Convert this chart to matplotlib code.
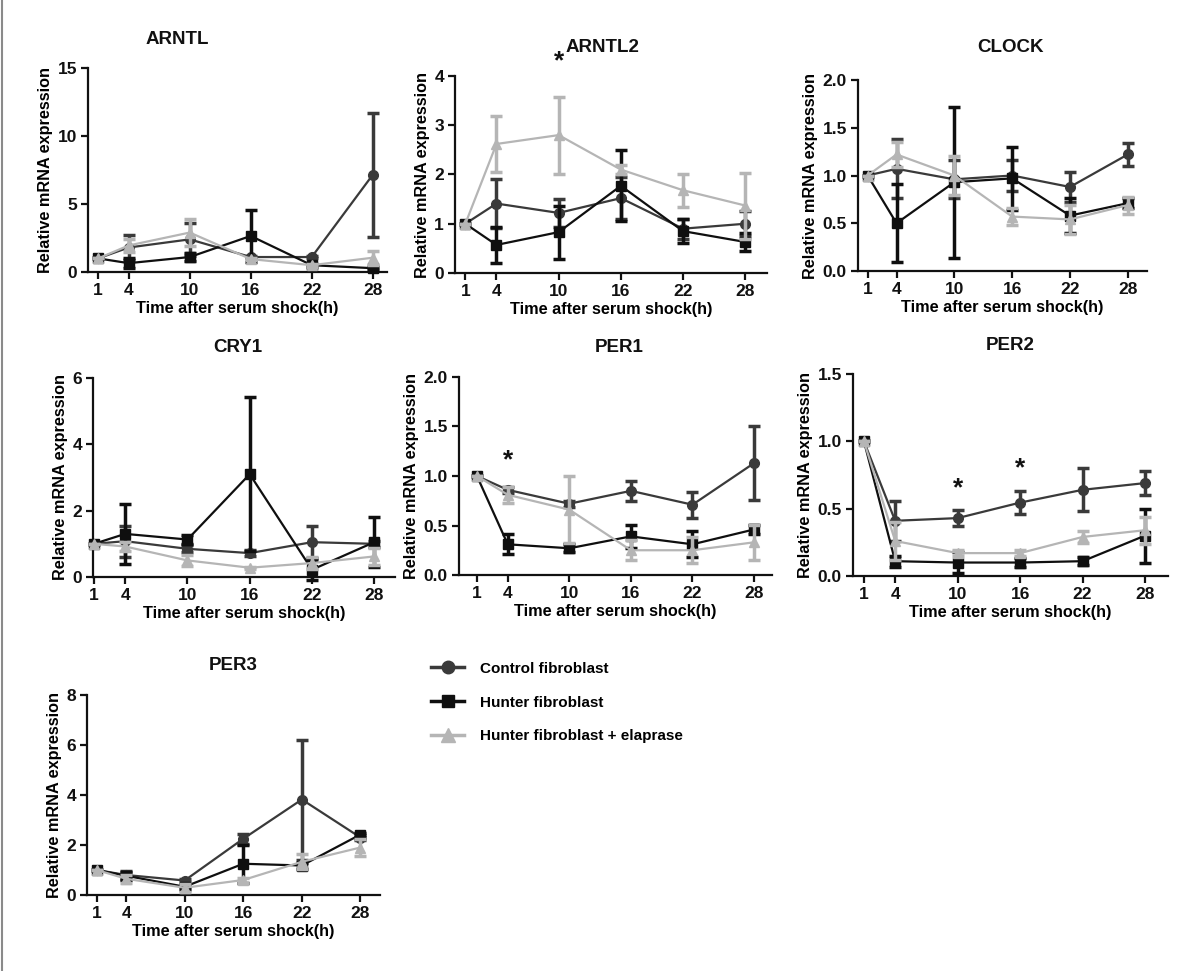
import matplotlib
matplotlib.use("Agg")
import matplotlib.pyplot as plt
from matplotlib.lines import Line2D

plt.rcParams['font.family'] = ['Liberation Sans', 'DejaVu Sans']
plt.rcParams['font.weight'] = 'bold'

# ---------------- data ----------------
hours = [1, 4, 10, 16, 22, 28]
series_names = ["Control fibroblast", "Hunter fibroblast", "Hunter fibroblast + elaprase"]

arntl_ctrl = [1.0, 1.8, 2.4, 1.1, 1.1, 7.15]
arntl_ctrl_err = [0.0, 0.9, 1.2, 0.1, 0.1, 4.55]
arntl_hunt = [1.0, 0.65, 1.1, 2.65, 0.5, 0.28]
arntl_hunt_err = [0.0, 0.35, 0.3, 1.9, 0.1, 0.1]
arntl_elap = [1.0, 1.95, 2.9, 0.95, 0.5, 1.05]
arntl_elap_err = [0.0, 0.45, 1.0, 0.1, 0.1, 0.5]

arntl2_ctrl = [1.0, 1.41, 1.22, 1.52, 0.9, 1.0]
arntl2_ctrl_err = [0.0, 0.5, 0.28, 0.43, 0.2, 0.25]
arntl2_hunt = [1.0, 0.57, 0.83, 1.77, 0.85, 0.63]
arntl2_hunt_err = [0.0, 0.36, 0.54, 0.72, 0.24, 0.18]
arntl2_elap = [1.0, 2.62, 2.8, 2.1, 1.68, 1.37]
arntl2_elap_err = [0.0, 0.57, 0.78, 0.1, 0.34, 0.67]

clock_ctrl = [1.0, 1.07, 0.96, 1.0, 0.88, 1.22]
clock_ctrl_err = [0.0, 0.31, 0.2, 0.16, 0.16, 0.12]
clock_hunt = [1.0, 0.5, 0.93, 0.97, 0.58, 0.71]
clock_hunt_err = [0.0, 0.41, 0.79, 0.33, 0.18, 0.05]
clock_elap = [1.0, 1.22, 1.0, 0.57, 0.54, 0.69]
clock_elap_err = [0.0, 0.13, 0.2, 0.09, 0.15, 0.09]

cry1_ctrl = [1.0, 1.08, 0.85, 0.72, 1.05, 1.0]
cry1_ctrl_err = [0.0, 0.47, 0.1, 0.08, 0.48, 0.1]
cry1_hunt = [1.0, 1.3, 1.13, 3.1, 0.22, 1.05]
cry1_hunt_err = [0.0, 0.9, 0.14, 2.32, 0.3, 0.75]
cry1_elap = [1.0, 0.92, 0.5, 0.28, 0.42, 0.62]
cry1_elap_err = [0.0, 0.15, 0.17, 0.03, 0.18, 0.25]

per1_ctrl = [1.0, 0.86, 0.72, 0.85, 0.71, 1.13]
per1_ctrl_err = [0.0, 0.03, 0.03, 0.1, 0.13, 0.37]
per1_hunt = [1.0, 0.31, 0.27, 0.39, 0.31, 0.46]
per1_hunt_err = [0.0, 0.1, 0.04, 0.12, 0.13, 0.05]
per1_elap = [1.0, 0.81, 0.66, 0.25, 0.25, 0.33]
per1_elap_err = [0.0, 0.08, 0.34, 0.1, 0.13, 0.18]

per2_ctrl = [1.0, 0.41, 0.43, 0.545, 0.64, 0.69]
per2_ctrl_err = [0.0, 0.15, 0.06, 0.085, 0.16, 0.09]
per2_hunt = [1.0, 0.11, 0.1, 0.1, 0.11, 0.3]
per2_hunt_err = [0.0, 0.04, 0.075, 0.035, 0.03, 0.2]
per2_elap = [1.0, 0.26, 0.17, 0.17, 0.29, 0.34]
per2_elap_err = [0.0, 0.14, 0.02, 0.02, 0.045, 0.1]

per3_ctrl = [1.0, 0.8, 0.58, 2.25, 3.82, 2.3]
per3_ctrl_err = [0.0, 0.15, 0.07, 0.2, 2.4, 0.1]
per3_hunt = [1.0, 0.77, 0.33, 1.25, 1.18, 2.42]
per3_hunt_err = [0.0, 0.17, 0.08, 0.75, 0.12, 0.08]
per3_elap = [1.0, 0.65, 0.29, 0.6, 1.33, 1.9]
per3_elap_err = [0.0, 0.15, 0.15, 0.1, 0.3, 0.35]

# significance marks: (hour, y)
arntl2_stars = [(10, 4.3)]
per1_stars = [(4, 1.16)]
per2_stars = [(10, 0.65), (16, 0.80)]

# ---------------- styling / layout ----------------
W, H = 1200, 971
fig = plt.figure(figsize=(W / 100, H / 100), dpi=100)
fig.patch.set_facecolor('white')

colors = ['#3a3a3a', '#0f0f0f', '#b5b5b5']
markers = ['o', 's', '^']
msizes = [7, 7, 7.5]


def px_axes(l, t, r, b):
    return fig.add_axes([l / W, 1 - b / H, (r - l) / W, (b - t) / H])


panels = [
    ("ARNTL", (arntl_ctrl, arntl_ctrl_err, arntl_hunt, arntl_hunt_err, arntl_elap, arntl_elap_err),
     (0, 15), [0, 5, 10, 15], "{:.0f}", (88, 68, 387, 272), (0, 29.4), (177, 40), []),
    ("ARNTL2", (arntl2_ctrl, arntl2_ctrl_err, arntl2_hunt, arntl2_hunt_err, arntl2_elap, arntl2_elap_err),
     (0, 4), [0, 1, 2, 3, 4], "{:.0f}", (455, 76, 767, 273), (0, 30.1), (602, 47), arntl2_stars),
    ("CLOCK", (clock_ctrl, clock_ctrl_err, clock_hunt, clock_hunt_err, clock_elap, clock_elap_err),
     (0, 2), [0, 0.5, 1.0, 1.5, 2.0], "{:.1f}", (858, 80, 1147, 271), (0, 30), (1010, 47), []),
    ("CRY1", (cry1_ctrl, cry1_ctrl_err, cry1_hunt, cry1_hunt_err, cry1_elap, cry1_elap_err),
     (0, 6), [0, 2, 4, 6], "{:.0f}", (93, 378, 395, 577), (0.9, 30), (238, 348), []),
    ("PER1", (per1_ctrl, per1_ctrl_err, per1_hunt, per1_hunt_err, per1_elap, per1_elap_err),
     (0, 2), [0, 0.5, 1.0, 1.5, 2.0], "{:.1f}", (459, 377, 772, 575), (-0.75, 29.75), (619, 348), per1_stars),
    ("PER2", (per2_ctrl, per2_ctrl_err, per2_hunt, per2_hunt_err, per2_elap, per2_elap_err),
     (0, 1.5), [0, 0.5, 1.0, 1.5], "{:.1f}", (853, 374, 1168, 576), (-0.05, 30.2), (1010, 346), per2_stars),
    ("PER3", (per3_ctrl, per3_ctrl_err, per3_hunt, per3_hunt_err, per3_elap, per3_elap_err),
     (0, 8), [0, 2, 4, 6, 8], "{:.0f}", (87, 695, 380, 895), (0, 30), (233, 665), []),
]

for title, data, ylim, yticks, fmt, rect, xlim, tpos, stars in panels:
    ax = px_axes(*rect)
    means = [data[0], data[2], data[4]]
    errs = [data[1], data[3], data[5]]
    for i in range(3):
        ax.errorbar(hours, means[i], yerr=errs[i], color=colors[i], ecolor=colors[i],
                    marker=markers[i], markersize=msizes[i], markerfacecolor=colors[i],
                    markeredgecolor=colors[i], linewidth=1.6, elinewidth=2.5, capsize=4.5,
                    capthick=2.5, clip_on=False, zorder=3 + i)
    ax.set_xlim(*xlim)
    ax.set_ylim(*ylim)
    ax.set_xticks(hours)
    ax.set_xticklabels([str(h) for h in hours])
    ax.set_yticks(yticks)
    ax.set_yticklabels([fmt.format(v) for v in yticks])
    for s in ['top', 'right']:
        ax.spines[s].set_visible(False)
    for s in ['left', 'bottom']:
        ax.spines[s].set_linewidth(1.6)
        ax.spines[s].set_color('#111111')
    ax.tick_params(axis='both', direction='out', length=5, width=1.6, labelsize=12.5,
                   colors='#111111', pad=3)
    for lab in ax.get_xticklabels() + ax.get_yticklabels():
        lab.set_fontweight('bold')
    ax.set_xlabel("Time after serum shock(h)", fontsize=11.7, fontweight='bold', labelpad=2)
    ax.set_ylabel("Relative mRNA expression", fontsize=11.7, fontweight='bold', labelpad=3)
    fig.text(tpos[0] / W, 1 - tpos[1] / H, title, ha='center', va='center',
             fontsize=13.5, fontweight='bold', color='#111111')
    for sx, sy in stars:
        ax.text(sx, sy, "*", ha='center', va='center', fontsize=19, fontweight='bold',
                color='#111111', clip_on=False)

# legend (plain line + marker handles)
handles = [Line2D([0], [0], color=colors[i], marker=markers[i], markersize=msizes[i] + 2,
                  markerfacecolor=colors[i], markeredgecolor=colors[i], linewidth=2.5)
           for i in range(3)]
fig.legend(handles, series_names, loc='upper left',
           bbox_to_anchor=(417 / W, 1 - 648 / H), frameon=False,
           handlelength=2.2, handletextpad=1.0, labelspacing=1.3,
           prop={'weight': 'bold', 'size': 11})

# grey border line at left edge
fig.add_artist(Line2D([1.5 / W, 1.5 / W], [0, 1], color='#8a8a8a', linewidth=1.5))

fig.savefig("out.png", dpi=100, facecolor='white')
